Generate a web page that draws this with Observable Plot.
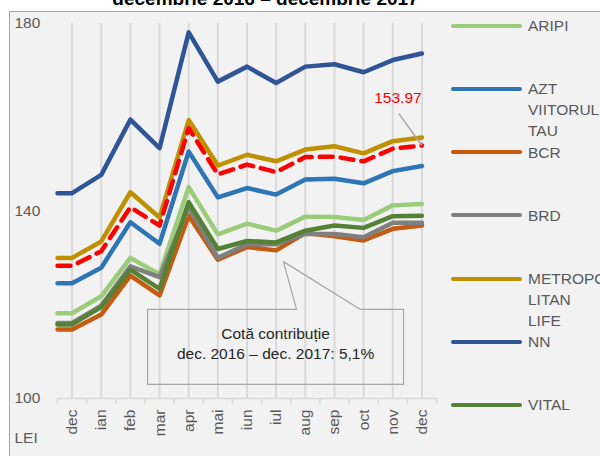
<!DOCTYPE html>
<html><head><meta charset="utf-8">
<script src="https://cdn.jsdelivr.net/npm/d3@7"></script>
<script src="https://cdn.jsdelivr.net/npm/@observablehq/plot@0.6"></script>
<style>
body{margin:0;width:600px;height:456px;overflow:hidden;background:#fff;position:relative;
 font-family:"Liberation Sans",Arial,sans-serif;}
#frame{position:absolute;left:9px;top:11px;width:620px;height:470px;border-left:1px solid #a6a6a6;border-top:1px solid #a6a6a6;background:#f2f2f2;}
#title{position:absolute;left:0;width:531px;top:-13px;text-align:center;font-weight:bold;font-size:19px;line-height:24px;color:#000;white-space:nowrap;}
#chart{position:absolute;left:0;top:0;}
#legend{position:absolute;left:0;top:0;}
.item{position:absolute;left:451px;white-space:nowrap;}
.sw{position:absolute;left:0;width:71px;height:4px;border-radius:2px;}
.lab{position:absolute;left:77px;font-size:15.5px;line-height:21px;color:#595959;}
</style></head>
<body>
<div id="frame"></div>
<div id="title">decembrie 2016 – decembrie 2017</div>
<div id="chart"></div>
<div id="legend"></div>
<script>
const months = ["dec","ian","feb","mar","apr","mai","iun","iul","aug","sep","oct","nov","dec"];
const seriesNames = ["ARIPI","AZT VIITORUL TAU","BCR","BRD","METROPOLITAN LIFE","NN","VITAL"];
const legendLines = [["ARIPI"],["AZT","VIITORUL","TAU"],["BCR"],["BRD"],["METROPO","LITAN","LIFE"],["NN"],["VITAL"]];
const colors = ["#9bcc7a","#2e75b6","#c55a11","#7f7f7f","#bf9000","#2f5597","#548235"];
const aripi  = [118.2,121.8,130.0,126.5,145.1,135.0,137.3,135.8,138.8,138.7,138.1,141.2,141.5];
const azt    = [124.6,127.9,137.6,133.0,152.7,142.9,144.9,143.5,146.7,146.9,145.9,148.5,149.6];
const bcr    = [114.7,117.9,126.2,122.0,139.0,129.6,132.3,131.6,135.3,134.6,133.7,136.2,136.9];
const brd    = [116.1,119.8,128.2,125.9,140.8,130.0,132.9,132.9,135.1,135.1,134.4,137.5,137.5];
const metro  = [130.0,133.5,144.0,138.6,159.4,149.7,152.0,150.6,153.1,153.8,152.3,154.9,155.7];
const nn     = [143.8,147.7,159.5,153.4,178.1,167.6,170.8,167.3,170.8,171.3,169.6,172.2,173.6];
const vital  = [115.8,119.5,127.5,123.4,141.9,131.9,133.6,133.3,135.8,136.9,136.4,138.9,139.0];
const average = [128.3,131.4,140.8,136.9,157.7,147.8,149.9,148.3,151.5,151.6,150.6,153.3,153.97];
const yTicks = [100,140,180];
const noteText = "Cotă contribuție\ndec. 2016 – dec. 2017: 5,1%";

const allSeries = [aripi,azt,bcr,brd,metro,nn,vital];
function rowsFor(name, vals){
  const r = [{series:name, i:-0.5, v:vals[0]}];
  vals.forEach((v,i)=>r.push({series:name, i, v}));
  return r;
}
const lineRows = allSeries.flatMap((vals,k)=>rowsFor(seriesNames[k], vals));
const avgRows = rowsFor("avg", average);
const idx = d3.range(months.length);
const bounds = d3.range(months.length+1).map(i=>i-0.5);
const last = average.length-1;

const callout = [
  {x:2.59,y:119},{x:7.70,y:119},{x:7.25,y:129.2},{x:9.89,y:119},{x:11.37,y:119},
  {x:11.37,y:103},{x:2.59,y:103},{x:2.59,y:119}
];

const font = '"Liberation Sans",Arial,sans-serif';
const chart = Plot.plot({
  width:600, height:456,
  marginLeft:57, marginRight:164, marginTop:23, marginBottom:58,
  style:{background:"transparent", fontFamily:font, fontSize:"15.5px", color:"#595959", overflow:"visible"},
  x:{type:"linear", domain:[-0.5,12.5], axis:null},
  y:{type:"linear", domain:[100,180], axis:null},
  color:{domain:seriesNames, range:colors},
  marks:[
    Plot.ruleX(idx, {x:d=>d, stroke:"#d9d9d9", strokeWidth:2}),
    Plot.ruleY([100], {stroke:"#d9d9d9", strokeWidth:1.5}),
    Plot.ruleX(bounds, {x:d=>d, y1:100, y2:100, insetBottom:-6, stroke:"#d9d9d9", strokeWidth:1.5}),
    Plot.text(idx, {x:d=>d, y:()=>100, text:d=>months[d], rotate:-90, textAnchor:"end", lineAnchor:"middle", dy:11, fontSize:15.5, fill:"#595959"}),
    Plot.text(yTicks, {y:d=>d, frameAnchor:"left", dx:-43, textAnchor:"start", text:d=>String(d), fontSize:15.5, fill:"#595959"}),
    Plot.text(["LEI"], {frameAnchor:"bottom-left", dx:-43, dy:44, textAnchor:"start", text:d=>d, fontSize:15.5, fill:"#595959"}),
    Plot.line(callout, {x:"x", y:"y", stroke:"#a6a6a6", strokeWidth:1.2}),
    Plot.text([noteText], {x:()=>6.98, y:()=>111.85, text:d=>d, fontSize:15.5, lineHeight:1.3, fill:"#262626"}),
    Plot.line(lineRows, {x:"i", y:"v", z:"series", stroke:"series", strokeWidth:4.5, strokeLinejoin:"round"}),
    Plot.line(avgRows, {x:"i", y:"v", stroke:"#ff0000", strokeWidth:4.5, strokeDasharray:"13,8", strokeLinejoin:"round"}),
    Plot.link([average[last]], {x1:()=>last-0.79, y1:d=>d+6.8, x2:()=>last, y2:d=>d, stroke:"#a6a6a6", strokeWidth:1.5}),
    Plot.text([average[last]], {x:()=>last, y:d=>d, text:d=>d.toFixed(2), dx:-24, dy:-47, fill:"#ff0000", fontSize:15.5})
  ]
});
document.getElementById("chart").appendChild(chart);

const leg = document.getElementById("legend");
legendLines.forEach((lines,k)=>{
  const cy = 25.7 + k*63.2;
  const it = document.createElement("div");
  it.className="item"; it.style.top = (cy-10.5)+"px";
  const sw = document.createElement("div");
  sw.className="sw"; sw.style.background = colors[k]; sw.style.top = "8.5px";
  const lab = document.createElement("div");
  lab.className="lab"; lab.innerHTML = lines.join("<br>");
  it.appendChild(sw); it.appendChild(lab); leg.appendChild(it);
});
</script>
</body></html>
